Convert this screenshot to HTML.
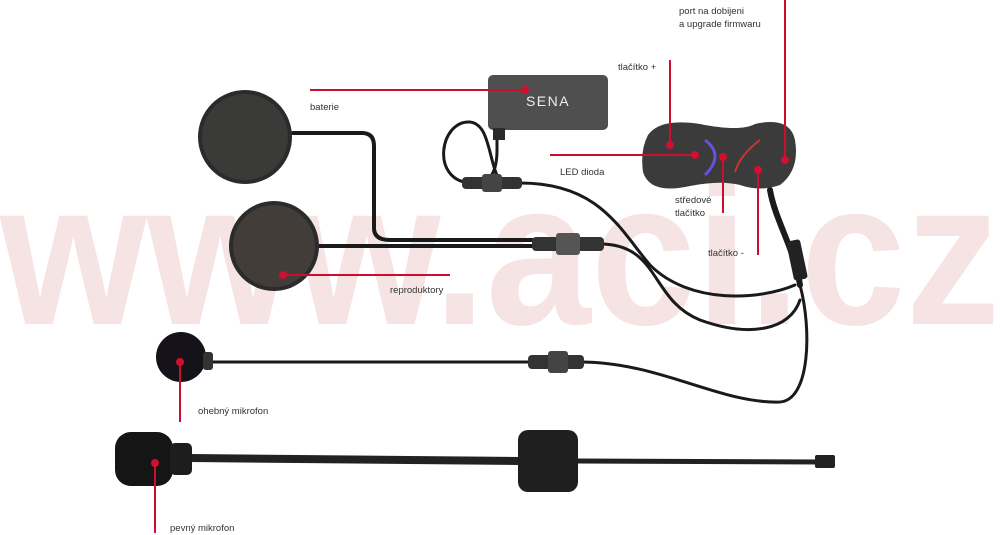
<!DOCTYPE html>
<html><head><meta charset="utf-8"><style>
html,body{margin:0;padding:0;background:#fff;}
svg{display:block}
text{font-family:"Liberation Sans",sans-serif;}
</style></head><body>
<svg width="1000" height="535" viewBox="0 0 1000 535" xmlns="http://www.w3.org/2000/svg">
<rect width="1000" height="535" fill="#fff"/>
<!-- watermark -->
<text x="0" y="324" font-size="205" font-weight="bold" fill="#f6e3e3" textLength="1000" lengthAdjust="spacingAndGlyphs">www.aci.cz</text>

<g fill="none" stroke="#1a1a1a" stroke-linecap="round">
<path d="M293 133 H362 Q374 133 374 146 V228 Q374 240 390 240 H540" stroke-width="4"/>
<path d="M318 246 H540" stroke-width="4"/>
<path d="M600 244 C660 244 650 300 700 320 C750 338 790 330 800 300" stroke-width="3"/>
<path d="M497 130 V150 Q497 180 480 182 M470 183 C430 180 440 120 470 122 C490 124 488 160 500 182" stroke-width="3"/>
<path d="M520 183 C600 183 620 230 650 265 C690 305 760 300 795 285" stroke-width="3"/>
<path d="M770 190 C775 220 795 250 800 285" stroke-width="6"/>
<path d="M800 285 C812 330 810 400 780 402 C720 404 660 362 580 362" stroke-width="3"/>
<path d="M205 362 H535" stroke-width="3"/>
<path d="M190 458 L520 461" stroke-width="8" stroke="#222"/>
<path d="M578 461 L820 462" stroke-width="5" stroke="#222"/>
</g>

<g fill="#333">
<rect x="462" y="177" width="60" height="12" rx="4"/>
<rect x="482" y="174" width="20" height="18" rx="3" fill="#444"/>
<rect x="532" y="237" width="72" height="14" rx="4"/>
<rect x="556" y="233" width="24" height="22" rx="3" fill="#555"/>
<rect x="528" y="355" width="56" height="14" rx="4"/>
<rect x="548" y="351" width="20" height="22" rx="3" fill="#444"/>
<rect x="790" y="240" width="14" height="40" rx="3" fill="#222" transform="rotate(-12 797 260)"/>
<rect x="815" y="455" width="20" height="13" rx="2" fill="#222"/>
</g>

<circle cx="245" cy="137" r="47" fill="#2b2b2b"/>
<circle cx="245" cy="137" r="43" fill="#3a3b38"/>
<circle cx="274" cy="246" r="45" fill="#2b2b2b"/>
<circle cx="274" cy="246" r="41" fill="#433d3a"/>
<circle cx="181" cy="357" r="25" fill="#15121a"/>
<rect x="203" y="352" width="10" height="18" rx="3" fill="#333"/>
<rect x="115" y="432" width="58" height="54" rx="16" fill="#151515"/>
<rect x="170" y="443" width="22" height="32" rx="5" fill="#1d1d1d"/>
<rect x="518" y="430" width="60" height="62" rx="10" fill="#1f1f1f"/>

<rect x="488" y="75" width="120" height="55" rx="5" fill="#4f4f4f"/>
<text x="548" y="106" font-size="14" fill="#eee" text-anchor="middle" letter-spacing="1.5">SENA</text>
<rect x="493" y="128" width="12" height="12" fill="#2a2a2a"/>

<path d="M648 135 Q660 118 700 124 Q740 132 755 124 Q790 116 795 140 Q800 170 780 185 Q760 192 740 185 Q720 180 690 186 Q650 195 643 172 Q640 150 648 135Z" fill="#3b3b3b"/>
<path d="M705 140 Q725 155 705 175" stroke="#6a4ee0" stroke-width="3" fill="none"/>
<path d="M760 140 Q740 155 735 172" stroke="#c33" stroke-width="2" fill="none"/>

<g stroke="#c8102e" stroke-width="2" fill="none">
<path d="M310 90 H525"/>
<path d="M283 275 H450"/>
<path d="M550 155 H695"/>
<path d="M670 60 V145"/>
<path d="M785 0 V160"/>
<path d="M723 157 V213"/>
<path d="M758 170 V255"/>
<path d="M180 362 V422"/>
<path d="M155 463 V533"/>
</g>
<g fill="#d0102e">
<circle cx="525" cy="90" r="4"/>
<circle cx="283" cy="275" r="4"/>
<circle cx="695" cy="155" r="4"/>
<circle cx="670" cy="145" r="4"/>
<circle cx="785" cy="160" r="4"/>
<circle cx="723" cy="157" r="4"/>
<circle cx="758" cy="170" r="4"/>
<circle cx="180" cy="362" r="4"/>
<circle cx="155" cy="463" r="4"/>
</g>

<g font-size="9.5" fill="#333">
<text x="310" y="110">baterie</text>
<text x="390" y="293">reproduktory</text>
<text x="560" y="175">LED dioda</text>
<text x="618" y="70">tlačítko +</text>
<text x="679" y="14">port na dobijeni</text>
<text x="679" y="27">a upgrade firmwaru</text>
<text x="675" y="203">středové</text>
<text x="675" y="216">tlačítko</text>
<text x="708" y="256">tlačítko -</text>
<text x="198" y="414">ohebný mikrofon</text>
<text x="170" y="531">pevný mikrofon</text>
</g>
</svg>
</body></html>
